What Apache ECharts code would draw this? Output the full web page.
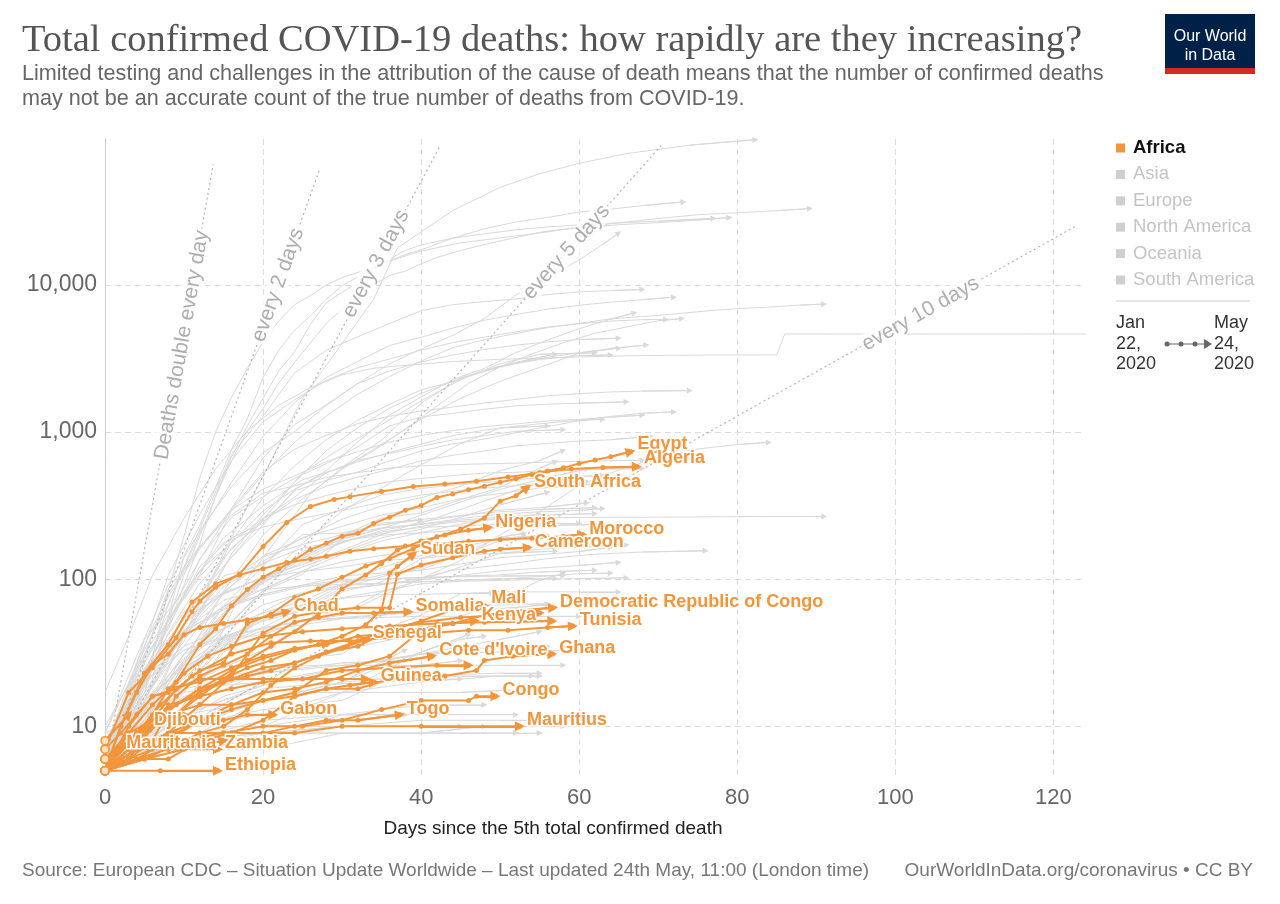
<!DOCTYPE html>
<html><head><meta charset="utf-8">
<script src="https://cdn.jsdelivr.net/npm/echarts@6/dist/echarts.min.js"></script>
<style>html,body{margin:0;padding:0;background:#fff;}#c{width:1280px;height:904px;}</style>
</head><body><div id="c"></div>
<script>
// ---------- Axis ticks ----------
const xTicks = [0, 20, 40, 60, 80, 100, 120];
const yTicks = [10, 100, 1000, 10000];

// ---------- Doubling reference lines ----------
const doublingLabels = ['Deaths double every day', 'every 2 days', 'every 3 days', 'every 5 days', 'every 10 days'];
const doublingStart = [0, 5];
const doublingEnds = [[13.7, 66000], [27.2, 62000], [42.4, 88000], [70.5, 90000], [122.8, 25000]];
const doublingLabelAt = [[9.75, 3900], [21.9, 10000], [34.3, 13900], [58.4, 16700], [103.2, 6350]];

// ---------- Africa (highlighted) ----------
const Egypt = [[0,6],[3,9],[6,14],[9,20],[12,36],[14,46],[16,66],[18,85],[20,103],[22,118],[24,135],[26,159],[28,176],[30,196],[32,205],[34,239],[36,264],[38,294],[40,317],[42,359],[44,380],[46,406],[48,429],[50,455],[52,482],[54,514],[56,544],[58,571],[60,612],[62,645],[64,680],[66.5,736]];
const Algeria = [[0,7],[3,17],[6,25],[9,40],[11,60],[12,71],[14,88],[17,108],[20,167],[23,243],[26,312],[29,348],[31,364],[35,394],[39,426],[43,444],[47,463],[51,495],[55,530],[59,561],[63,575],[67.3,582]];
const SouthAfrica = [[0,5],[3,9],[6,11],[9,18],[12,24],[15,27],[18,50],[21,58],[24,75],[27,86],[30,103],[33,123],[36,138],[39,161],[42,194],[45,219],[48,261],[50,339],[52,369],[53.4,419]];
const Nigeria = [[0,5],[3,7],[6,10],[9,12],[12,17],[15,21],[18,28],[21,35],[24,44],[27,58],[30,86],[33,107],[35,128],[37,158],[40,182],[43,200],[46,215],[48.5,224]];
const Morocco = [[0,5],[2,10],[5,23],[8,36],[11,70],[14,93],[17,107],[20,118],[23,130],[26,137],[28,143],[31,155],[34,161],[38,168],[42,173],[46,181],[50,186],[54,190],[58,196],[60.4,201]];
const Cameroon = [[0,6],[4,8],[8,12],[12,14],[16,22],[20,43],[24,56],[28,61],[32,64],[36,64],[37,108],[40,125],[44,140],[48,155],[50,160],[53.5,164]];
const Sudan = [[0,5],[3,6],[6,10],[9,12],[12,16],[15,21],[18,25],[21,28],[24,33],[27,36],[30,41],[33,49],[35,62],[36,110],[37,122],[39,147]];
const Chad = [[0,5],[2,10],[4,17],[6,26],[8,31],[10,42],[12,47],[15,50],[18,53],[21,56],[23,60]];
const Somalia = [[0,5],[3,7],[6,8],[9,16],[12,22],[15,26],[18,31],[21,41],[24,51],[27,55],[30,59],[34,59],[38.4,60]];
const Mali = [[0,5],[4,9],[8,13],[12,17],[16,21],[20,25],[24,27],[28,32],[32,35],[36,45],[40,52],[44,62],[48,66]];
const DRCongo = [[0,6],[4,8],[8,18],[12,20],[16,25],[20,30],[24,34],[28,36],[32,41],[36,43],[40,46],[44,50],[48,57],[52,61],[56.7,64]];
const Kenya = [[0,5],[4,7],[8,9],[12,14],[16,14],[20,15],[24,17],[28,24],[32,26],[36,30],[40,45],[44,50],[46.8,52]];
const Tunisia = [[0,5],[4,9],[7,14],[11,22],[16,31],[21,37],[26,38],[31,38],[36,40],[41,43],[46,45],[51,45],[56,47],[59.2,48]];
const Senegal = [[0,5],[3,6],[6,7],[9,9],[12,9],[15,10],[18,13],[21,19],[24,25],[27,30],[30,34],[33,39]];
const CoteDIvoire = [[0,5],[4,6],[8,8],[12,11],[16,14],[20,17],[24,18],[28,20],[32,24],[36,27],[41.4,30]];
const Ghana = [[0,5],[4,6],[8,6],[12,8],[16,9],[20,11],[24,16],[28,18],[32,18],[36,21],[40,21],[43,22],[47,24],[48,28],[51.6,30],[56.6,31]];
const Guinea = [[0,5],[4,7],[8,9],[12,11],[16,13],[20,15],[24,16],[28,18],[31,19],[34,20]];
const Congo = [[0,5],[5,6],[10,8],[15,9],[20,10],[25,10],[30,11],[35,13],[40,15],[46,15],[47,16],[49.4,16]];
const Togo = [[0,5],[4,6],[8,7],[12,9],[16,9],[20,9],[24,10],[28,11],[32,11],[37.3,12]];
const Mauritius = [[0,5],[2,6],[4,7],[8,9],[15,9],[24,9],[30,10],[40,10],[52.5,10]];
const Gabon = [[0,5],[3,6],[6,8],[9,9],[12,11],[15,11],[18,12],[21.3,12]];
const Djibouti = [[0,5],[2,7],[4,9],[5.3,10]];
const Mauritania = [[0,6],[1.8,7]];
const Zambia = [[0,5],[3,7],[8,7],[14.3,7]];
const Ethiopia = [[0,5],[7,5],[14.3,5]];
const BurkinaFaso = [[0,7],[2,9],[4,12],[6,16],[8,17],[10,23],[13,30],[16,35],[20,41],[25,44],[30,46],[36,48],[42,50],[48,51],[56.6,52]];
const Niger = [[0,5],[3,8],[6,10],[9,14],[12,18],[15,20],[18,22],[21,24],[24,27],[28,32],[32,38],[36,46],[40,51],[45,55],[50,57],[55,59]];
const Tanzania = [[0,5],[3,10],[6,16],[9,18],[12,21],[20,21],[30,21],[33,21]];
const Liberia = [[0,5],[4,7],[8,14],[12,16],[16,18],[20,20],[25,21],[30,24],[36,25],[42,26],[46,26]];
const SierraLeone = [[0,5],[4,9],[8,13],[12,18],[16,24],[20,29],[24,33],[28,37]];
const EqGuinea = [[0,5],[3,7],[6,12],[10,12]];
const SaoTome = [[0,8],[3,12]];
const SouthSudan = [[0,6],[3,8],[6,10]];
const GuineaBissau = [[0,5],[5,6],[10,7],[15,8]];

const africaLabeled = [
  ['Egypt', Egypt], ['Algeria', Algeria], ['South Africa', SouthAfrica], ['Nigeria', Nigeria],
  ['Morocco', Morocco], ['Cameroon', Cameroon], ['Sudan', Sudan], ['Chad', Chad], ['Somalia', Somalia],
  ['Mali', Mali], ['Democratic Republic of Congo', DRCongo], ['Kenya', Kenya], ['Tunisia', Tunisia],
  ['Senegal', Senegal], ["Cote d'Ivoire", CoteDIvoire], ['Ghana', Ghana], ['Guinea', Guinea],
  ['Congo', Congo], ['Togo', Togo], ['Mauritius', Mauritius], ['Gabon', Gabon], ['Djibouti', Djibouti],
  ['Mauritania', Mauritania], ['Zambia', Zambia], ['Ethiopia', Ethiopia]
];
const africaUnlabeled = [
  ['Burkina Faso', BurkinaFaso], ['Niger', Niger], ['Tanzania', Tanzania], ['Liberia', Liberia],
  ['Sierra Leone', SierraLeone], ['Equatorial Guinea', EqGuinea], ['Sao Tome and Principe', SaoTome],
  ['South Sudan', SouthSudan], ['Guinea-Bissau', GuineaBissau]
];

// ---------- Other continents (grey) ----------
const US = [[0,6],[5,11],[10,41],[15,150],[20,500],[25,1700],[30,4000],[34,8000],[37,17800],[44,32000],[50,46000],[55,57000],[60,67000],[66,78000],[74,89000],[82.3,97000]];
const Italy = [[0,7],[5,17],[8,52],[10,107],[12,197],[14,366],[16,631],[18,1016],[20,1441],[22,2158],[24,2978],[26,4032],[28,5476],[30,6820],[32,8165],[34,10023],[36,11591],[38,12428],[40,13915],[42,15362],[44,16523],[46,17669],[50,19899],[55,22745],[60,24648],[65,26384],[70,28236],[75,29958],[80,30911],[85,31908],[89.2,33000]];
const Spain = [[0,5],[5,17],[8,84],[10,196],[12,491],[14,1002],[16,1720],[18,2696],[20,4089],[22,5690],[24,7340],[26,8464],[28,10003],[30,11198],[33,12641],[36,14555],[40,16972],[45,19315],[50,20852],[55,22524],[60,24543],[65,25613],[70,26478],[75,27563],[79,28700]];
const France = [[0,7],[4,19],[8,48],[10,91],[12,175],[14,372],[16,674],[18,1100],[20,1696],[22,2606],[24,3523],[26,5387],[28,7560],[30,8911],[32,10328],[34,13197],[36,14967],[38,17148],[40,18681],[44,20796],[48,22245],[52,23660],[56,24760],[60,25531],[65,26380],[70,27074],[77,28300]];
const UK = [[0,6],[4,10],[6,21],[8,55],[10,144],[12,233],[14,422],[16,759],[18,1228],[20,2352],[22,3605],[24,4934],[26,6159],[28,7978],[30,9875],[32,11329],[34,12868],[36,14576],[38,16060],[40,17337],[44,20732],[48,24055],[52,26771],[56,28734],[60,31241],[64,32692],[68,34546],[73.2,36600]];
const Brazil = [[0,6],[4,25],[8,57],[12,136],[16,299],[20,667],[24,1124],[28,1532],[32,2141],[36,2906],[40,3670],[44,4543],[48,5901],[52,8536],[56,11123],[60,14817],[63,18859],[65,22500]];
const Belgium = [[0,5],[4,14],[8,67],[12,220],[16,705],[20,1283],[24,2523],[28,3600],[32,4440],[36,5453],[40,6679],[44,7331],[48,7703],[52,8016],[56,8581],[60,8959],[64,9150],[68,9300]];
const Germany = [[0,9],[4,26],[8,68],[12,206],[16,455],[20,931],[24,1584],[28,2349],[32,3022],[36,3868],[40,4404],[44,5086],[48,5750],[52,6288],[56,6831],[60,7266],[64,7635],[68,7935],[72,8250]];
const Iran = [[0,5],[4,22],[8,54],[12,107],[16,291],[20,514],[24,853],[28,1284],[32,1812],[36,2378],[40,3036],[44,3739],[48,4232],[52,4683],[56,5118],[60,5481],[64,5877],[68,6091],[72,6340],[76,6640],[80,6902],[84,7057],[88,7300],[91,7400]];
const Mexico = [[0,5],[4,16],[8,37],[12,79],[16,141],[20,233],[24,406],[28,546],[32,857],[36,1305],[40,1732],[44,2271],[48,2704],[52,3465],[56,4220],[60,5045],[64,5852],[67,6450]];
const Canada = [[0,5],[5,9],[10,19],[14,35],[18,100],[22,195],[26,381],[30,569],[34,745],[38,1048],[42,1500],[46,2141],[50,2783],[54,3391],[58,4043],[62,4697],[66,5169],[70,5702],[73,5900]];
const Netherlands = [[0,10],[4,24],[8,106],[12,276],[16,639],[20,1173],[24,1651],[28,2248],[32,2737],[36,3134],[40,3601],[44,4054],[48,4409],[52,4795],[56,5168],[60,5440],[64,5680],[68,5800],[71,5830]];
const China = [[0,17],[3,41],[6,106],[10,259],[14,563],[18,1016],[22,1523],[26,2004],[30,2445],[34,2715],[38,2835],[44,3015],[50,3120],[56,3186],[62,3260],[68,3309],[74,3331],[80,3342],[85,3345],[86,4632],[124.3,4638]];
const Sweden = [[0,6],[4,10],[8,25],[12,68],[16,180],[20,358],[24,591],[28,887],[32,1203],[36,1540],[40,1937],[44,2194],[48,2586],[52,2941],[56,3225],[60,3460],[64,3698],[68.5,3900]];
const Turkey = [[0,9],[4,30],[8,92],[12,214],[16,425],[20,725],[24,1006],[28,1518],[32,2140],[36,2600],[40,2992],[44,3336],[48,3641],[52,3894],[56,4096],[60,4249],[65,4340]];
const India = [[0,5],[5,9],[10,27],[15,83],[20,199],[25,353],[30,559],[35,826],[40,1223],[45,1694],[50,2212],[55,2753],[60,3435],[65,3720]];
const Russia = [[0,6],[4,17],[8,34],[12,58],[16,148],[20,273],[24,456],[28,747],[32,1073],[36,1451],[40,1827],[44,2212],[48,2631],[52,2972],[57,3388]];
const Peru = [[0,5],[5,16],[10,38],[15,121],[20,254],[25,530],[30,782],[35,1124],[40,1627],[45,2267],[50,2914],[55,3373],[62,3456]];
const Ecuador = [[0,5],[5,27],[10,79],[15,191],[20,315],[25,474],[30,576],[35,883],[40,1569],[45,2327],[50,2799],[55,3108],[60,3313],[64,3334]];
const Switzerland = [[0,7],[4,27],[8,80],[12,165],[16,300],[20,536],[24,765],[28,950],[32,1141],[36,1281],[40,1389],[44,1478],[48,1575],[52,1666],[56,1762],[60,1823],[64,1872],[68,1898],[74,1913]];
const Ireland = [[0,6],[4,19],[8,46],[12,137],[16,263],[20,365],[24,486],[28,610],[32,794],[36,1102],[40,1265],[44,1339],[48,1429],[52,1506],[56,1547],[60,1571],[66,1604]];
const Portugal = [[0,6],[4,23],[8,76],[12,160],[16,295],[20,409],[24,504],[28,629],[32,735],[36,854],[40,948],[44,1023],[48,1089],[52,1135],[56,1190],[60,1218],[64,1263],[68,1302]];
const Indonesia = [[0,5],[4,19],[8,48],[12,122],[16,191],[20,240],[24,399],[28,469],[32,535],[36,635],[40,743],[44,831],[48,895],[52,991],[56,1089],[60,1191],[64,1278],[68,1340],[72,1372]];
const Romania = [[0,5],[4,17],[8,52],[12,115],[16,176],[20,291],[24,409],[28,530],[32,627],[36,727],[40,828],[44,946],[48,1029],[52,1097],[56,1151],[60,1202],[63,1221]];
const Poland = [[0,5],[4,14],[8,43],[12,94],[16,159],[20,257],[24,362],[28,527],[32,644],[36,715],[40,800],[44,883],[48,945],[52,1011],[58,1038]];
const Philippines = [[0,8],[4,17],[8,38],[12,78],[16,163],[20,247],[24,349],[28,428],[32,494],[36,558],[40,637],[44,695],[48,743],[52,806],[56,837],[60,868],[64,886],[69,935]];
const Pakistan = [[0,5],[5,11],[10,28],[15,57],[20,96],[25,176],[30,290],[35,417],[40,599],[45,834],[50,1067],[56,1101]];
const Japan = [[0,6],[5,7],[10,14],[15,32],[20,42],[25,52],[30,57],[35,77],[40,101],[45,134],[50,200],[55,287],[60,435],[65,551],[70,672],[75,767],[80,822],[84,850]];
const SouthKorea = [[0,7],[2,12],[4,16],[6,28],[8,42],[10,60],[13,72],[16,84],[20,104],[24,131],[28,162],[32,192],[36,208],[40,229],[44,244],[48,252],[54,261],[60,263],[70,264],[80,266],[91,267]];
const Austria = [[0,6],[4,21],[8,86],[12,168],[16,273],[20,384],[24,431],[28,491],[32,530],[36,569],[40,589],[44,600],[48,608],[52,615],[56,625],[60,632],[64,639],[68,643]];
const Denmark = [[0,6],[4,24],[8,52],[12,104],[16,179],[20,260],[24,321],[28,370],[32,418],[36,460],[40,484],[44,506],[48,526],[52,533],[56,547],[60,554],[64,561],[68,565]];
const Chile = [[0,5],[5,12],[10,27],[15,57],[20,94],[25,139],[30,198],[35,260],[40,282],[45,347],[50,421],[55,569],[57,630]];
const Colombia = [[0,6],[5,16],[10,35],[15,80],[20,144],[25,189],[30,256],[35,314],[40,358],[45,428],[50,546],[55,640],[58,750]];
const Hungary = [[0,6],[5,10],[10,26],[15,66],[20,122],[25,235],[30,300],[35,373],[40,413],[45,442],[50,462],[55,491],[60,500],[63,505]];
const Ukraine = [[0,5],[5,10],[10,22],[15,45],[20,83],[25,108],[30,187],[35,220],[40,272],[45,334],[50,408],[55,476],[61,563]];
const DominicanRep = [[0,6],[5,39],[10,82],[15,177],[20,226],[25,260],[30,293],[35,333],[40,373],[45,402],[50,424],[55,448],[61,460]];
const Bangladesh = [[0,5],[5,9],[10,17],[15,39],[20,84],[25,155],[30,177],[35,214],[40,240],[45,298],[50,370],[55,452],[58,480]];
const Argentina = [[0,6],[5,17],[10,43],[15,82],[20,132],[25,192],[30,228],[35,273],[40,305],[45,353],[50,382],[55,416],[62,445]];
const SaudiArabia = [[0,6],[5,25],[10,41],[15,65],[20,97],[25,121],[30,152],[35,191],[40,219],[45,264],[50,320],[56,390]];
const Panama = [[0,6],[5,24],[10,54],[15,79],[20,103],[25,126],[30,157],[35,201],[40,246],[45,269],[50,295],[55,306],[61,330]];
const Finland = [[0,5],[5,13],[10,28],[15,59],[20,98],[25,149],[30,199],[35,240],[40,255],[45,271],[50,287],[55,298],[62,306]];
const Israel = [[0,5],[5,15],[10,49],[15,95],[20,142],[25,172],[30,201],[35,223],[40,235],[45,252],[50,264],[55,272],[62,279]];
const Norway = [[0,7],[5,19],[10,44],[15,89],[20,128],[25,163],[30,182],[35,199],[40,207],[45,216],[50,224],[55,232],[62,235]];
const Greece = [[0,6],[5,20],[10,50],[15,81],[20,102],[25,113],[30,121],[35,134],[40,139],[45,146],[50,150],[55,160],[60,165],[66,171]];
const Australia = [[0,5],[5,8],[10,18],[15,35],[20,56],[25,67],[30,75],[35,83],[40,93],[45,97],[50,98],[55,100],[60,101],[66,102]];
const Serbia = [[0,5],[5,13],[10,31],[15,65],[20,99],[25,130],[30,179],[35,209],[40,225],[45,230],[50,236],[55,238],[60,239]];
const Moldova = [[0,5],[5,14],[10,27],[15,46],[20,84],[25,114],[30,148],[35,182],[40,207],[45,237],[50,261],[55,276]];
const Cuba = [[0,6],[5,11],[10,24],[15,38],[20,55],[25,67],[30,74],[35,79],[40,79],[45,80],[50,82],[60,82],[65,82]];
const Luxembourg = [[0,8],[5,22],[10,44],[15,72],[20,85],[25,90],[30,92],[40,96],[50,100],[60,109],[64,110]];
const Estonia = [[0,5],[5,13],[10,31],[15,40],[20,46],[25,52],[30,55],[40,60],[50,63],[56,67]];
const Lithuania = [[0,5],[5,9],[10,23],[15,35],[20,45],[25,49],[30,54],[40,60],[50,67],[56,68]];
const Slovenia = [[0,6],[5,21],[10,45],[15,62],[20,79],[25,91],[30,98],[40,103],[50,105],[58,106]];
const Croatia = [[0,5],[5,15],[10,29],[15,46],[20,67],[25,81],[30,91],[40,96],[50,101],[57,101]];
const Bulgaria = [[0,7],[5,12],[10,23],[15,40],[20,52],[25,61],[30,85],[40,99],[50,114],[60,124],[65,130]];
const NorthMacedonia = [[0,7],[5,23],[10,40],[15,66],[20,79],[25,91],[30,105],[40,115],[50,140],[60,154],[64,165]];
const Afghanistan = [[0,5],[5,15],[10,25],[15,36],[20,47],[25,64],[30,87],[35,104],[40,120],[45,148],[50,193],[53,205]];
const Iraq = [[0,6],[8,10],[12,20],[16,40],[20,60],[24,78],[28,85],[32,88],[36,93],[40,102],[44,115],[50,125],[56,138],[62,148],[68,153],[76,156]];
const Malaysia = [[0,6],[5,15],[10,43],[15,65],[20,77],[25,89],[30,96],[35,100],[40,102],[45,105],[50,107],[55,112],[62,115]];
const Thailand = [[0,6],[5,15],[10,26],[15,40],[20,47],[25,52],[30,54],[40,56],[50,56],[60,56]];
const Lebanon = [[0,6],[5,11],[10,19],[15,22],[20,24],[25,26],[30,26],[40,26],[50,26],[58,26]];
const Honduras = [[0,5],[5,22],[10,35],[15,46],[20,59],[25,71],[30,93],[35,107],[40,116],[45,147],[50,182],[55,199]];
const Guatemala = [[0,5],[5,7],[10,11],[15,16],[20,19],[25,29],[30,31],[35,45],[40,57],[45,80],[49,80]];
const Bolivia = [[0,5],[5,11],[10,25],[15,37],[20,53],[25,66],[30,91],[35,120],[40,145],[45,164],[50,190],[56,199]];
const ElSalvador = [[0,6],[10,8],[20,15],[30,20],[40,32],[45,39],[48,41]];
const Kuwait = [[0,6],[5,11],[10,19],[15,25],[20,33],[25,49],[30,82],[35,96],[40,138],[42,148]];
const Qatar = [[0,6],[10,10],[20,13],[30,15],[40,26],[45,28]];
const UAE = [[0,8],[5,16],[10,43],[15,105],[20,126],[25,201],[30,206],[35,234],[40,253]];
const Singapore = [[0,6],[10,11],[20,15],[30,20],[40,22],[50,23],[55,23]];
const SriLanka = [[0,5],[10,7],[20,7],[30,9],[40,9],[48,10]];
const Jordan = [[0,5],[10,7],[20,9],[30,9],[40,9],[50,9],[55,9]];
const Cyprus = [[0,5],[5,9],[10,11],[15,12],[20,15],[25,17],[35,17],[45,17],[55,18]];
const Uruguay = [[0,6],[10,8],[20,10],[30,17],[40,20],[50,22],[55,22]];
const CostaRica = [[0,6],[10,8],[20,9],[30,10],[45,10]];
const Paraguay = [[0,5],[10,8],[20,9],[30,10],[40,11],[50,11],[55,11]];
const Iceland = [[0,6],[5,8],[10,10],[20,10],[30,10],[40,10],[50,10],[58,10]];
const NewZealand = [[0,9],[5,12],[10,17],[15,19],[20,20],[25,21],[35,21],[45,21]];
const Latvia = [[0,5],[5,9],[10,12],[15,15],[20,18],[25,19],[35,20],[45,22],[54,22]];
const Czechia = [[0,6],[5,11],[10,31],[15,59],[20,99],[25,143],[30,188],[35,222],[40,237],[45,258],[50,277],[55,287],[60,293],[63,302]];
const Slovakia = [[0,6],[10,18],[20,23],[30,27],[38,28]];
const Armenia = [[0,6],[10,13],[20,24],[30,33],[40,43],[50,72],[55,98],[58,110]];
const Azerbaijan = [[0,5],[10,10],[20,20],[30,25],[40,31],[50,39],[55,44]];
const Albania = [[0,6],[10,16],[20,23],[30,26],[40,31],[50,32],[60,33],[64,33]];
const Oman = [[0,5],[10,10],[20,12],[30,17],[40,32],[46,42]];
const Bahrain = [[0,5],[10,7],[20,8],[30,12],[40,12],[52,12]];
const Belarus = [[0,6],[5,19],[10,40],[15,63],[20,86],[25,112],[30,131],[35,145],[42,160]];
const BosniaHerz = [[0,5],[5,13],[10,21],[15,39],[20,42],[25,53],[30,59],[35,82],[40,99],[45,121],[50,150],[57,155]];
const Kazakhstan = [[0,5],[10,12],[20,19],[30,25],[40,31],[50,35],[56,35]];
const Haiti = [[0,6],[10,12],[20,15],[30,20],[38,33]];
const Kyrgyzstan = [[0,5],[10,8],[20,10],[30,12],[40,14],[48,14]];
const Montenegro = [[0,5],[10,8],[20,9],[30,9],[45,9],[52,9]];
const Georgia = [[0,5],[10,8],[20,11],[30,12],[38,12]];
const Tajikistan = [[0,5],[5,20],[10,33],[18,46]];

const greyCountries = [
  US, Italy, Spain, France, UK, Brazil, Belgium, Germany, Iran, Mexico, Canada, Netherlands, China,
  Sweden, Turkey, India, Russia, Peru, Ecuador, Switzerland, Ireland, Portugal, Indonesia, Romania,
  Poland, Philippines, Pakistan, Japan, SouthKorea, Austria, Denmark, Chile, Colombia, Hungary,
  Ukraine, DominicanRep, Bangladesh, Argentina, SaudiArabia, Panama, Finland, Israel, Norway, Greece,
  Australia, Serbia, Moldova, Cuba, Luxembourg, Estonia, Lithuania, Slovenia, Croatia, Bulgaria,
  NorthMacedonia, Afghanistan, Iraq, Malaysia, Thailand, Lebanon, Honduras, Guatemala, Bolivia,
  ElSalvador, Kuwait, Qatar, UAE, Singapore, SriLanka, Jordan, Cyprus, Uruguay, CostaRica, Paraguay,
  Iceland, NewZealand, Latvia, Czechia, Slovakia, Armenia, Azerbaijan, Albania, Oman, Bahrain,
  Belarus, BosniaHerz, Kazakhstan, Haiti, Kyrgyzstan, Montenegro, Georgia, Tajikistan
];

// ---------- Legend text ----------
const legendItems = ['Africa', 'Asia', 'Europe', 'North America', 'Oceania', 'South America'];

// ---------- Styling ----------
const ORANGE = '#f2953b';
const GREY_LINE = '#d9d9d9';
const SANS = '"Liberation Sans", Arial, sans-serif';
const SERIF = '"Liberation Serif", "DejaVu Serif", serif';
const labelNudge = { 'Egypt': [0, -2], 'Algeria': [0, -3], 'Mali': [0, -2] };

function arrowMark(d, color, size, width) {
  const a = d[d.length - 2], b = d[d.length - 1];
  return {
    silent: true, animation: false, symbol: ['none', 'triangle'], symbolSize: size,
    label: { show: false }, emphasis: { disabled: true },
    lineStyle: { color: color, width: width, type: 'solid' },
    data: [[{ coord: a }, { coord: b }]]
  };
}

const series = [];
greyCountries.forEach((d, i) => {
  series.push({
    type: 'line', name: 'g' + i, data: d, symbol: 'none', silent: true, z: 1, animation: false,
    lineStyle: { color: GREY_LINE, width: 1 },
    emphasis: { disabled: true },
    markLine: arrowMark(d, GREY_LINE, 6, 1)
  });
});

doublingEnds.forEach((e, i) => {
  series.push({
    type: 'line', name: 'dbl' + i, data: [doublingStart, e], symbol: 'none', silent: true, z: 2,
    animation: false, lineStyle: { color: '#b5b5b5', width: 1.2, type: [2, 3] }, emphasis: { disabled: true }
  });
});

function africaSeries(name, d, labeled) {
  const nudge = labelNudge[name] || [0, 0];
  return {
    type: 'line', name: name, z: 5, silent: true, animation: false,
    data: d.map((p, i) => i === 0 ? { value: p, symbolSize: 8, itemStyle: { color: '#fbe0c3', borderColor: ORANGE, borderWidth: 1.5 } } : p),
    symbol: 'circle', symbolSize: 5, showSymbol: true,
    lineStyle: { color: ORANGE, width: 2 }, itemStyle: { color: ORANGE },
    emphasis: { disabled: true },
    endLabel: {
      show: labeled, formatter: name, color: ORANGE, fontWeight: 'bold', fontSize: 18,
      fontFamily: SANS, distance: 7, offset: [nudge[0], -6 + nudge[1]],
      textBorderColor: '#fff', textBorderWidth: 3
    },
    markLine: arrowMark(d, ORANGE, 10, 2)
  };
}
africaUnlabeled.forEach(([n, d]) => series.push(africaSeries(n, d, false)));
africaLabeled.forEach(([n, d]) => series.push(africaSeries(n, d, true)));

series.push({
  type: 'scatter', id: 'dlabels', z: 4, silent: true, animation: false, symbolSize: 0,
  data: doublingLabelAt.map((p, i) => ({ value: p, label: { formatter: doublingLabels[i] } })),
  label: {
    show: true, position: 'inside', color: '#9a9a9a', fontSize: 21, fontFamily: SANS,
    backgroundColor: '#fff', padding: [0, 2]
  }
});

// ---------- Graphic texts ----------
const graphic = [
  { type: 'text', left: 22, top: 21, style: { text: 'Total confirmed COVID-19 deaths: how rapidly are they increasing?', font: '38.5px ' + SERIF, fill: '#555' } },
  { type: 'text', left: 22, top: 62, style: { text: 'Limited testing and challenges in the attribution of the cause of death means that the number of confirmed deaths\nmay not be an accurate count of the true number of deaths from COVID-19.', font: '21.6px ' + SANS, fill: '#666', lineHeight: 25 } },
  { type: 'rect', left: 1165, top: 14, shape: { width: 90, height: 60 }, style: { fill: '#002147' } },
  { type: 'rect', left: 1165, top: 68, shape: { width: 90, height: 6 }, style: { fill: '#d42b21' } },
  { type: 'text', x: 1210, y: 37, style: { text: 'Our World', font: '16px ' + SANS, fill: '#fff', textAlign: 'center', textVerticalAlign: 'middle' } },
  { type: 'text', x: 1210, y: 56, style: { text: 'in Data', font: '16px ' + SANS, fill: '#fff', textAlign: 'center', textVerticalAlign: 'middle' } },
  { type: 'line', shape: { x1: 1116, y1: 301, x2: 1250, y2: 301 }, style: { stroke: '#ccc', lineWidth: 1 } },
  { type: 'text', left: 1116, top: 313, style: { text: 'Jan\n22,\n2020', font: '18px ' + SANS, fill: '#333', lineHeight: 20.5 } },
  { type: 'text', left: 1214, top: 313, style: { text: 'May\n24,\n2020', font: '18px ' + SANS, fill: '#333', lineHeight: 20.5 } },
  { type: 'line', shape: { x1: 1165, y1: 344, x2: 1206, y2: 344 }, style: { stroke: '#666', lineWidth: 1 } },
  { type: 'circle', shape: { cx: 1167, cy: 344, r: 2.5 }, style: { fill: '#666' } },
  { type: 'circle', shape: { cx: 1181, cy: 344, r: 2.5 }, style: { fill: '#666' } },
  { type: 'circle', shape: { cx: 1195, cy: 344, r: 2.5 }, style: { fill: '#666' } },
  { type: 'polygon', shape: { points: [[1204, 339], [1212, 344], [1204, 349]] }, style: { fill: '#666' } },
  { type: 'text', x: 553, y: 829, style: { text: 'Days since the 5th total confirmed death', font: '19px ' + SANS, fill: '#222', textAlign: 'center', textVerticalAlign: 'middle' } },
  { type: 'text', x: 22, y: 871, style: { text: 'Source: European CDC – Situation Update Worldwide – Last updated 24th May, 11:00 (London time)', font: '19px ' + SANS, fill: '#777', textVerticalAlign: 'middle' } },
  { type: 'text', x: 1253, y: 871, style: { text: 'OurWorldInData.org/coronavirus • CC BY', font: '19px ' + SANS, fill: '#777', textAlign: 'right', textVerticalAlign: 'middle' } }
];
legendItems.forEach((name, i) => {
  const y = 148 + i * 26.4;
  const active = i === 0;
  graphic.push({ type: 'rect', left: 1116, top: y - 4.5, shape: { width: 9, height: 9 }, style: { fill: active ? ORANGE : '#cfcfcf' } });
  graphic.push({ type: 'text', x: 1133, y: y, style: { text: name, font: (active ? 'bold ' : '') + '18.5px ' + SANS, fill: active ? '#111' : '#c4c4c4', textVerticalAlign: 'middle' } });
});

const option = {
  backgroundColor: '#fff',
  animation: false,
  grid: { left: 105, right: 195, top: 139, bottom: 128, containLabel: false },
  xAxis: {
    type: 'value', min: 0, max: 124, interval: 20,
    axisLine: { show: false }, axisTick: { show: false },
    splitLine: { show: true, showMinLine: false, showMaxLine: false, lineStyle: { color: '#dcdcdc', type: [6, 4] } },
    axisLabel: { fontSize: 22, color: '#666', fontFamily: SANS, margin: 11, showMinLabel: true, showMaxLabel: false,
      formatter: v => xTicks.includes(v) ? String(v) : '' }
  },
  yAxis: {
    type: 'log', logBase: 10, min: 4.6, max: 98000,
    axisLine: { show: true, lineStyle: { color: '#ccc', width: 1 } }, axisTick: { show: false },
    splitLine: { show: true, showMinLine: false, showMaxLine: false, lineStyle: { color: '#dcdcdc', type: [6, 4] } },
    axisLabel: { fontSize: 23, color: '#666', fontFamily: SANS, margin: 8, showMinLabel: false, showMaxLabel: false,
      formatter: v => { const r = Math.round(v); return yTicks.includes(r) ? r.toLocaleString('en-US') : ''; } }
  },
  graphic: graphic,
  series: series
};

const chart = echarts.init(document.getElementById('c'), null, { renderer: 'canvas' });
chart.setOption(option);
const p0 = chart.convertToPixel({ gridIndex: 0 }, doublingStart);
const rots = doublingEnds.map(e => {
  const p1 = chart.convertToPixel({ gridIndex: 0 }, e);
  return Math.atan2(p0[1] - p1[1], p1[0] - p0[0]) * 180 / Math.PI;
});
chart.setOption({
  series: [{ id: 'dlabels', data: doublingLabelAt.map((p, i) => ({ value: p, label: { formatter: doublingLabels[i], rotate: rots[i] } })) }]
});
</script></body></html>
